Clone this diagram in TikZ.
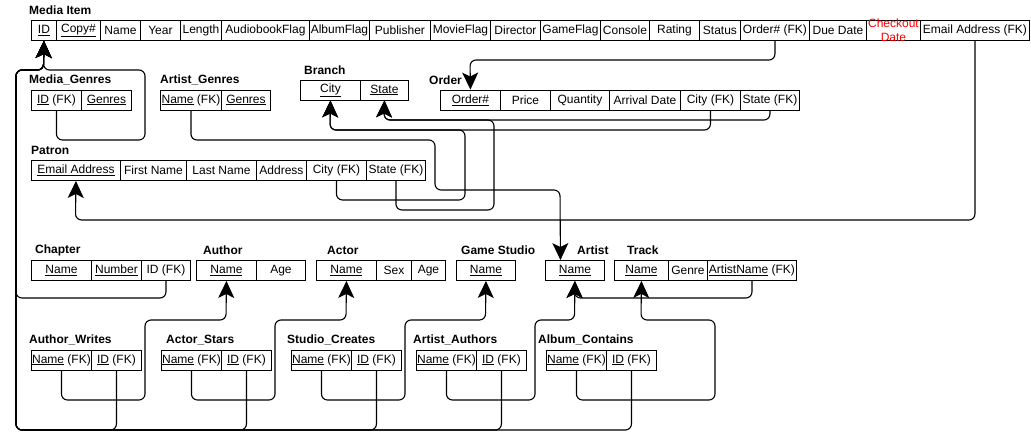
\documentclass[tikz,border=0pt]{standalone}
\usepackage{fontspec}
\setmainfont{Liberation Sans}
\usetikzlibrary{arrows.meta}

\begin{document}
\begin{tikzpicture}[x=1pt, y=-1pt,
        font=\fontsize{12}{14}\selectfont,
        cell/.style={draw, line width=0.9pt, anchor=west, minimum height=20pt, inner sep=0pt},
        title/.style={anchor=west, inner sep=0pt, font=\fontsize{12}{14}\selectfont\bfseries},
        fk/.style={line width=1.1pt, rounded corners=6pt},
        tip/.style={-{Stealth[length=17pt, width=16pt, inset=4pt]}}]
        \useasboundingbox (0, 0) rectangle (1031, 447);

        \node[title] (t-media) at (29, 10) {Media Item};
        \node[cell, minimum width=25pt] (mi-id) at (31, 30.5) {\underline{ID}};
        \node[cell, minimum width=44pt] (mi-copy) at (56, 30.5) {\underline{Copy\#}};
        \node[cell, minimum width=40pt] (mi-name) at (100, 30.5) {Name};
        \node[cell, minimum width=40pt] (mi-year) at (140, 30.5) {Year};
        \node[cell, minimum width=41pt] (mi-length) at (180, 30.5) {Length};
        \node[cell, minimum width=88pt] (mi-audio) at (221, 30.5) {AudiobookFlag};
        \node[cell, minimum width=60pt] (mi-album) at (309, 30.5) {AlbumFlag};
        \node[cell, minimum width=61pt] (mi-pub) at (369, 30.5) {Publisher};
        \node[cell, minimum width=60pt] (mi-movie) at (430, 30.5) {MovieFlag};
        \node[cell, minimum width=50pt] (mi-dir) at (490, 30.5) {Director};
        \node[cell, minimum width=60pt] (mi-game) at (540, 30.5) {GameFlag};
        \node[cell, minimum width=49pt] (mi-console) at (600, 30.5) {Console};
        \node[cell, minimum width=50pt] (mi-rating) at (649, 30.5) {Rating};
        \node[cell, minimum width=41pt] (mi-status) at (699, 30.5) {Status};
        \node[cell, minimum width=69pt] (mi-order) at (740, 30.5) {Order\# (FK)};
        \node[cell, minimum width=57pt] (mi-due) at (809, 30.5) {Due Date};
        \node[cell, minimum width=54pt] (mi-checkout) at (866, 30.5) {};
        \node[text=red, align=center, inner sep=0pt] (mi-checkout-txt) at (mi-checkout) {Checkout\\Date};
        \node[cell, minimum width=109pt] (mi-email) at (920, 30.5) {Email Address (FK)};

        \node[title] (t-mgenres) at (29, 80) {Media\_Genres};
        \node[cell, minimum width=50pt] (mg-id) at (31, 100) {\underline{ID} (FK)};
        \node[cell, minimum width=50pt] (mg-genres) at (81, 100) {\underline{Genres}};

        \node[title] (t-agenres) at (160, 80) {Artist\_Genres};
        \node[cell, minimum width=61pt] (ag-name) at (160, 100) {\underline{Name} (FK)};
        \node[cell, minimum width=49pt] (ag-genres) at (221, 100) {\underline{Genres}};

        \node[title] (t-branch) at (304, 70) {Branch};
        \node[cell, minimum width=60pt] (br-city) at (300, 90) {\underline{City}};
        \node[cell, minimum width=48pt] (br-state) at (360, 90) {\underline{State}};

        \node[title] (t-order) at (429, 80) {Order};
        \node[cell, minimum width=60pt] (or-order) at (440, 100) {\underline{Order\#}};
        \node[cell, minimum width=50pt] (or-price) at (500, 100) {Price};
        \node[cell, minimum width=59pt] (or-qty) at (550, 100) {Quantity};
        \node[cell, minimum width=71pt] (or-arrival) at (609, 100) {Arrival Date};
        \node[cell, minimum width=60pt] (or-city) at (680, 100) {City (FK)};
        \node[cell, minimum width=59pt] (or-state) at (740, 100) {State (FK)};

        \node[title] (t-patron) at (31, 150) {Patron};
        \node[cell, minimum width=89pt] (pa-email) at (31, 170.5) {\underline{Email Address}};
        \node[cell, minimum width=66pt] (pa-first) at (120, 170.5) {First Name};
        \node[cell, minimum width=70pt] (pa-last) at (186, 170.5) {Last Name};
        \node[cell, minimum width=50pt] (pa-addr) at (256, 170.5) {Address};
        \node[cell, minimum width=60pt] (pa-city) at (306, 170.5) {City (FK)};
        \node[cell, minimum width=59pt] (pa-state) at (366, 170.5) {State (FK)};

        \node[title] (t-chapter) at (35, 250) {Chapter};
        \node[cell, minimum width=60pt] (ch-name) at (31, 270.5) {\underline{Name}};
        \node[cell, minimum width=50pt] (ch-number) at (91, 270.5) {\underline{Number}};
        \node[cell, minimum width=49pt] (ch-id) at (141, 270.5) {ID (FK)};

        \node[title] (t-author) at (203, 250) {Author};
        \node[cell, minimum width=60pt] (au-name) at (196, 270.5) {\underline{Name}};
        \node[cell, minimum width=49pt] (au-age) at (256, 270.5) {Age};

        \node[title] (t-actor) at (327, 250) {Actor};
        \node[cell, minimum width=60pt] (ac-name) at (316, 270.5) {\underline{Name}};
        \node[cell, minimum width=35pt] (ac-sex) at (376, 270.5) {Sex};
        \node[cell, minimum width=34pt] (ac-age) at (411, 270.5) {Age};

        \node[title] (t-studio) at (461, 250) {Game Studio};
        \node[cell, minimum width=59pt] (gs-name) at (456, 270.5) {\underline{Name}};

        \node[title] (t-artist) at (577, 250) {Artist};
        \node[cell, minimum width=59pt] (ar-name) at (545, 270.5) {\underline{Name}};

        \node[title] (t-track) at (627, 250) {Track};
        \node[cell, minimum width=54pt] (tr-name) at (614, 270.5) {\underline{Name}};
        \node[cell, minimum width=39pt] (tr-genre) at (668, 270.5) {Genre};
        \node[cell, minimum width=89pt] (tr-artist) at (707, 270.5) {\underline{ArtistName} (FK)};

        \node[title] (t-writes) at (29, 340) {Author\_Writes};
        \node[cell, minimum width=60pt] (aw-name) at (31, 360) {\underline{Name} (FK)};
        \node[cell, minimum width=50pt] (aw-id) at (91, 360) {\underline{ID} (FK)};

        \node[title] (t-stars) at (166, 340) {Actor\_Stars};
        \node[cell, minimum width=60pt] (as-name) at (161, 360) {\underline{Name} (FK)};
        \node[cell, minimum width=50pt] (as-id) at (221, 360) {\underline{ID} (FK)};

        \node[title] (t-creates) at (287, 340) {Studio\_Creates};
        \node[cell, minimum width=60pt] (sc-name) at (291, 360) {\underline{Name} (FK)};
        \node[cell, minimum width=50pt] (sc-id) at (351, 360) {\underline{ID} (FK)};

        \node[title] (t-authors) at (413, 340) {Artist\_Authors};
        \node[cell, minimum width=60pt] (aa-name) at (416, 360) {\underline{Name} (FK)};
        \node[cell, minimum width=50pt] (aa-id) at (476, 360) {\underline{ID} (FK)};

        \node[title] (t-contains) at (538, 340) {Album\_Contains};
        \node[cell, minimum width=60pt] (alc-name) at (546, 360) {\underline{Name} (FK)};
        \node[cell, minimum width=50pt] (alc-id) at (606, 360) {\underline{ID} (FK)};

        \node[coordinate] (miJ) at (43.5, 70) {};
        \node[coordinate] (mgA) at (145, 140) {};
        \node[coordinate] (chA) at (16, 298) {};
        \node[coordinate] (botA) at (16, 430) {};
        \node[coordinate] (awA) at (145, 400) {};
        \node[coordinate] (awB) at (226, 320) {};
        \node[coordinate] (asA) at (275, 400) {};
        \node[coordinate] (asB) at (346, 320) {};
        \node[coordinate] (scA) at (405, 400) {};
        \node[coordinate] (scB) at (485.5, 320) {};
        \node[coordinate] (aaA) at (535, 400) {};
        \node[coordinate] (aaB) at (574.5, 320) {};
        \node[coordinate] (alcA) at (715, 400) {};
        \node[coordinate] (alcB) at (641, 320) {};
        \node[coordinate] (trA) at (574.5, 298) {};
        \node[coordinate] (agA) at (435, 140) {};
        \node[coordinate] (agB) at (560, 190) {};
        \node[coordinate] (pcA) at (465, 200) {};
        \node[coordinate] (brC) at (330, 130) {};
        \node[coordinate] (psA) at (494, 210) {};
        \node[coordinate] (brS) at (384, 120) {};
        \node[coordinate] (orA) at (470, 60) {};
        \node[coordinate] (paE) at (75.5, 220) {};

        \draw[fk, tip] (mg-id.south) |- (mgA) |- (miJ) -- (mi-id.south);
        \draw[fk, tip] (ch-id.south) |- (chA) |- (miJ) -- (mi-id.south);
        \foreach \t in {aw-id, as-id, sc-id, aa-id, alc-id}
            \draw[fk, tip] (\t.south) |- (botA) |- (miJ) -- (mi-id.south);
        \draw[fk, tip] (aw-name.south) |- (awA) |- (awB) -- (au-name.south);
        \draw[fk, tip] (as-name.south) |- (asA) |- (asB) -- (ac-name.south);
        \draw[fk, tip] (sc-name.south) |- (scA) |- (scB) -- (gs-name.south);
        \draw[fk, tip] (aa-name.south) |- (aaA) |- (aaB) -- (ar-name.south);
        \draw[fk, tip] (alc-name.south) |- (alcA) |- (alcB) -- (tr-name.south);
        \draw[fk, tip] (tr-artist.south) |- (trA) -- (ar-name.south);
        \draw[fk, tip] (ag-name.south) |- (agA) |- (agB) -- ([xshift=-14.5pt]ar-name.north);
        \draw[fk, tip] (pa-city.south) |- (pcA) |- (brC) -- (br-city.south);
        \draw[fk, tip] (pa-state.south) |- (psA) |- (brS) -- (br-state.south);
        \draw[fk, tip] (or-city.south) |- (brC) -- (br-city.south);
        \draw[fk, tip] (or-state.south) |- (brS) -- (br-state.south);
        \draw[fk, tip] (mi-order.south) |- (orA) -- (or-order.north);
        \draw[fk, tip] (mi-email.south) |- (paE) -- (pa-email.south);
    \end{tikzpicture}
\end{document}
